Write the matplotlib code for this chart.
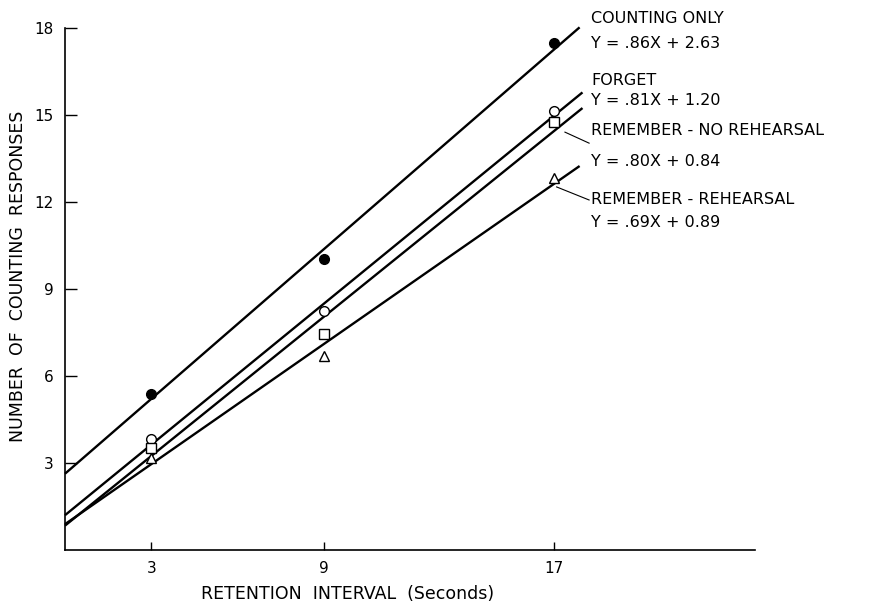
import numpy as np
import matplotlib
matplotlib.use("Agg")
import matplotlib.pyplot as plt

# retention interval (s)
intervals = [3, 9, 17]

# mean number of counting responses per condition
counting_only = [5.38, 10.03, 17.48]
forget = [3.83, 8.24, 15.14]
remember_no_reh = [3.52, 7.45, 14.76]
remember_reh = [3.17, 6.69, 12.83]

# fitted lines: slope, intercept, x where the drawn line stops
slopes = [0.86, 0.81, 0.80, 0.69]
intercepts = [2.63, 1.20, 0.84, 0.89]
line_ends = [17.9, 18.0, 18.0, 17.9]

names = ["COUNTING ONLY", "FORGET", "REMEMBER - NO REHEARSAL", "REMEMBER - REHEARSAL"]
equations = ["Y = .86X + 2.63", "Y = .81X + 1.20", "Y = .80X + 0.84", "Y = .69X + 0.89"]

x_ticks = [3, 9, 17]
y_ticks = [3, 6, 9, 12, 15, 18]

fig = plt.figure(figsize=(8.7, 6.04), dpi=100)
ax = fig.add_axes([0.0747, 0.0894, 0.7931, 0.8642])

series = [counting_only, forget, remember_no_reh, remember_reh]
markers = ["o", "o", "s", "^"]
faces = ["black", "white", "white", "white"]

for i in range(4):
    xl = np.array([0, line_ends[i]])
    ax.plot(xl, slopes[i] * xl + intercepts[i], color="black", lw=1.7,
            solid_capstyle="butt", zorder=2, clip_on=False)
    ax.plot(intervals, series[i], linestyle="none", marker=markers[i],
            markersize=7 if markers[i] != "s" else 6.5,
            markerfacecolor=faces[i], markeredgecolor="black",
            markeredgewidth=1.0, zorder=3, clip_on=False)

# labels to the right of the lines
txt = dict(fontsize=11.5, color="black", va="center", ha="left",
           family="DejaVu Sans", clip_on=False)
ax.text(18.3, 18.34, names[0], **txt)
ax.text(18.3, 17.48, equations[0], **txt)
ax.text(18.3, 16.2, names[1], **txt)
ax.text(18.3, 15.5, equations[1], **txt)
ax.text(18.3, 14.45, names[2], **txt)
ax.text(18.3, 13.38, equations[2], **txt)
ax.text(18.3, 12.07, names[3], **txt)
ax.text(18.3, 11.31, equations[3], **txt)

# leader lines
ax.plot([17.39, 18.23], [14.41, 14.03], color="black", lw=0.8, clip_on=False)
ax.plot([17.1, 18.23], [12.52, 12.07], color="black", lw=0.8, clip_on=False)

ax.set_xlim(0, 24)
ax.set_ylim(0, 18)
ax.set_xticks(x_ticks)
ax.set_yticks(y_ticks)
ax.spines["top"].set_visible(False)
ax.spines["right"].set_visible(False)
ax.spines["left"].set_linewidth(1.2)
ax.spines["bottom"].set_linewidth(1.2)
ax.tick_params(axis="y", direction="in", length=8.5, width=1.0, pad=8, labelsize=11)
ax.tick_params(axis="x", direction="in", length=6, width=1.0, pad=8, labelsize=11)

ax.set_xlabel("RETENTION  INTERVAL  (Seconds)", fontsize=12.5)
ax.set_ylabel("NUMBER  OF  COUNTING  RESPONSES", fontsize=12.5)
ax.xaxis.set_label_coords(0.41, -0.067)
ax.yaxis.set_label_coords(-0.055, 0.525)

fig.savefig("out.png", dpi=100)
